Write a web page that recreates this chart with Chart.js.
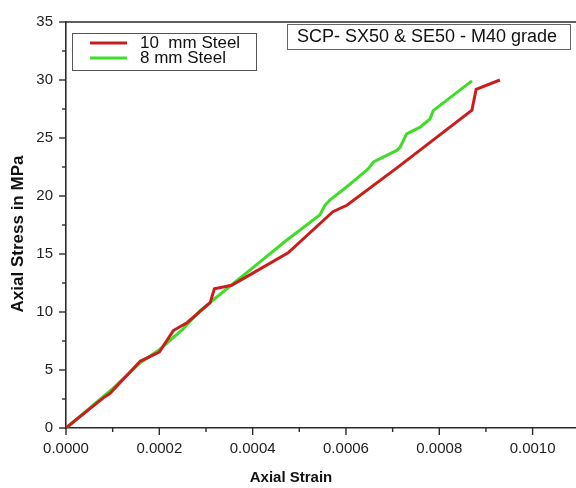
<!DOCTYPE html>
<html>
<head>
<meta charset="utf-8">
<script src="https://cdn.jsdelivr.net/npm/chart.js@4.4.1/dist/chart.umd.min.js"></script>
<style>
  html, body { margin: 0; padding: 0; background: #fff; }
  #wrap { width: 576px; height: 488px; position: relative; }
</style>
</head>
<body>
<div id="wrap"><canvas id="c" width="576" height="488"></canvas></div>
<script>
// ---- data ----
const seriesLabels = ['10  mm Steel', '8 mm Steel'];
const strain10 = [0, 0.00008, 0.000094, 0.000159, 0.0002, 0.00023, 0.00026, 0.000309, 0.000318, 0.000355, 0.000394, 0.000476, 0.000572, 0.000602, 0.00071, 0.00087, 0.000879, 0.00093];
const stress10 = [0, 2.6, 2.97, 5.75, 6.55, 8.4, 9.1, 10.8, 12.0, 12.3, 13.2, 15.1, 18.65, 19.2, 22.45, 27.4, 29.2, 30.0];
const strain8 = [0, 0.0001, 0.00016, 0.0002, 0.00025, 0.000287, 0.00036, 0.0004, 0.00047, 0.000544, 0.000555, 0.000566, 0.000602, 0.000619, 0.000648, 0.000659, 0.000709, 0.000716, 0.00073, 0.000759, 0.00078, 0.000787, 0.00087];
const stress8 = [0, 3.4, 5.65, 6.75, 8.5, 10.1, 12.5, 13.8, 16.1, 18.37, 19.2, 19.66, 20.8, 21.37, 22.36, 22.93, 23.93, 24.2, 25.36, 25.93, 26.64, 27.36, 29.92];
const yTicks = [0, 5, 10, 15, 20, 25, 30, 35];
const xTickLabels = ['0.0000', '0.0002', '0.0004', '0.0006', '0.0008', '0.0010'];
const annotationText = 'SCP- SX50 & SE50 - M40 grade';
const xTitle = 'Axial Strain';
const yTitle = 'Axial Stress in MPa';

const toPts = (xs, ys) => xs.map((x, i) => ({ x: x, y: ys[i] }));
const RED = '#c81e1e';
const GREEN = '#3fdc2a';
const AXIS = '#2a2a2a';
const FONT = "'Liberation Sans', Arial, sans-serif";

const decor = {
  id: 'decor',
  afterDraw(chart) {
    const ctx = chart.ctx;
    const a = chart.chartArea;
    const xs = chart.scales.x, ys = chart.scales.y;
    ctx.save();
    // top frame line
    ctx.strokeStyle = AXIS;
    ctx.lineWidth = 1.6;
    ctx.beginPath();
    ctx.moveTo(a.left, a.top); ctx.lineTo(a.right, a.top);
    ctx.stroke();
    // ticks: y
    ctx.lineWidth = 1.4;
    for (let v = 0; v <= 35.001; v += 2.5) {
      const p = ys.getPixelForValue(v);
      const major = Math.abs(v % 5) < 1e-6;
      ctx.beginPath();
      ctx.moveTo(a.left, p); ctx.lineTo(a.left - (major ? 7 : 4), p);
      ctx.stroke();
    }
    // ticks: x
    for (let k = 0; k <= 10; k++) {
      const p = xs.getPixelForValue(k * 0.0001);
      if (p > a.right) break;
      const major = k % 2 === 0;
      ctx.beginPath();
      ctx.moveTo(p, a.bottom); ctx.lineTo(p, a.bottom + (major ? 7 : 4));
      ctx.stroke();
    }
    // axis titles
    ctx.fillStyle = '#111';
    ctx.font = "bold 15px " + FONT;
    ctx.textAlign = 'center';
    ctx.textBaseline = 'middle';
    ctx.fillText(xTitle, 291, 478);
    ctx.save();
    ctx.translate(18, 234);
    ctx.rotate(-Math.PI / 2);
    ctx.font = "bold 17px " + FONT;
    ctx.fillText(yTitle, 0, 0);
    ctx.restore();
    // legend box
    ctx.strokeStyle = '#555';
    ctx.lineWidth = 1;
    ctx.strokeRect(72.5, 33.5, 184, 37);
    const ds = chart.data.datasets;
    const rows = [43, 58];
    ctx.font = "17px " + FONT;
    ctx.textAlign = 'left';
    ds.forEach((d, i) => {
      ctx.strokeStyle = d.borderColor;
      ctx.lineWidth = 3;
      ctx.beginPath();
      ctx.moveTo(90, rows[i]); ctx.lineTo(127, rows[i]);
      ctx.stroke();
      ctx.fillStyle = '#111';
      ctx.fillText(d.label, 140, rows[i]);
    });
    // annotation box
    ctx.strokeStyle = '#666';
    ctx.lineWidth = 1;
    ctx.strokeRect(287.5, 24.5, 283, 25);
    ctx.font = "18px " + FONT;
    ctx.fillStyle = '#111';
    ctx.fillText(annotationText, 297, 37);
    ctx.restore();
  }
};

new Chart(document.getElementById('c'), {
  type: 'line',
  data: {
    datasets: [
      { label: seriesLabels[0], data: toPts(strain10, stress10), borderColor: RED, backgroundColor: RED, borderWidth: 3, pointRadius: 0, tension: 0, fill: false },
      { label: seriesLabels[1], data: toPts(strain8, stress8), borderColor: GREEN, backgroundColor: GREEN, borderWidth: 3, pointRadius: 0, tension: 0, fill: false }
    ]
  },
  options: {
    responsive: false,
    animation: false,
    events: [],
    layout: { padding: { left: 0, top: 19, right: 0, bottom: 0 } },
    plugins: { legend: { display: false }, tooltip: { enabled: false } },
    scales: {
      x: {
        type: 'linear',
        min: 0,
        max: 0.001093,
        afterFit(s) { s.height = 60; },
        afterBuildTicks(s) {
          s.ticks = xTickLabels.map(t => ({ value: parseFloat(t) }));
        },
        ticks: {
          padding: 12,
          color: '#222',
          font: { family: FONT, size: 15 },
          maxRotation: 0,
          autoSkip: false,
          callback: (v, i) => xTickLabels[i]
        },
        grid: { display: false, drawTicks: false },
        border: { display: true, color: AXIS, width: 1.6 }
      },
      y: {
        type: 'linear',
        min: 0,
        max: 35,
        afterFit(s) { s.width = 66; },
        afterBuildTicks(s) {
          s.ticks = yTicks.map(v => ({ value: v }));
        },
        ticks: {
          padding: 13,
          color: '#222',
          font: { family: FONT, size: 15 },
          callback: v => String(v)
        },
        grid: { display: false, drawTicks: false },
        border: { display: true, color: AXIS, width: 1.6 }
      }
    }
  },
  plugins: [decor]
});
</script>
</body>
</html>
